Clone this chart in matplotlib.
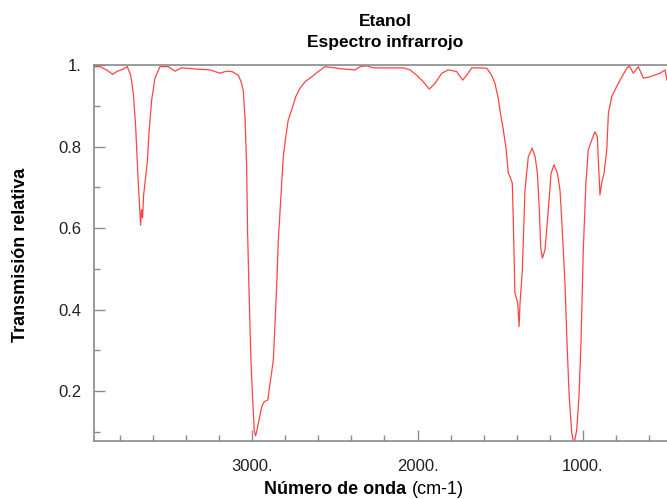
import matplotlib.pyplot as plt
import numpy as np

# wavenumber (cm-1) and relative transmission
wavenumber = np.array([
    3959, 3954, 3923, 3883, 3846, 3822, 3782, 3758, 3737, 3721,
    3707, 3691, 3677, 3671, 3665, 3659, 3651, 3637, 3625, 3610,
    3590, 3560, 3509, 3469, 3428, 3337, 3257, 3196, 3156, 3124,
    3095, 3085, 3065, 3055, 3045, 3035, 3029, 3021, 3009, 2998,
    2989, 2981, 2974, 2960, 2944, 2928, 2907, 2893, 2873, 2863,
    2853, 2843, 2827, 2813, 2798, 2783, 2762, 2738, 2712, 2681,
    2641, 2601, 2560, 2520, 2449, 2379, 2348, 2308, 2268, 2167,
    2086, 2045, 2005, 1965, 1929, 1894, 1853, 1813, 1763, 1726,
    1702, 1672, 1621, 1581, 1551, 1531, 1511, 1496, 1480, 1464,
    1450, 1440, 1426, 1420, 1410, 1393, 1385, 1379, 1365, 1349,
    1329, 1305, 1288, 1274, 1262, 1254, 1244, 1228, 1218, 1203,
    1191, 1173, 1153, 1137, 1120, 1107, 1093, 1081, 1066, 1052,
    1036, 1022, 1010, 996, 980, 966, 945, 925, 911, 905,
    895, 885, 870, 854, 844, 824, 794, 773, 733, 717,
    693, 663, 632, 592, 531, 501, 489,
])
transmission = np.array([
    0.995, 0.996, 0.996, 0.988, 0.977, 0.984, 0.990, 0.996, 0.975, 0.930,
    0.849, 0.710, 0.607, 0.645, 0.625, 0.680, 0.710, 0.760, 0.840, 0.914,
    0.968, 0.996, 0.996, 0.985, 0.993, 0.990, 0.988, 0.980, 0.985, 0.984,
    0.977, 0.975, 0.955, 0.935, 0.873, 0.755, 0.588, 0.456, 0.276, 0.178,
    0.104, 0.090, 0.100, 0.129, 0.161, 0.174, 0.178, 0.219, 0.276, 0.366,
    0.456, 0.570, 0.677, 0.775, 0.824, 0.865, 0.890, 0.922, 0.943, 0.959,
    0.971, 0.984, 0.996, 0.994, 0.990, 0.988, 0.996, 0.998, 0.993, 0.993,
    0.993, 0.988, 0.975, 0.959, 0.941, 0.955, 0.980, 0.988, 0.984, 0.963,
    0.975, 0.993, 0.993, 0.992, 0.975, 0.955, 0.918, 0.877, 0.840, 0.796,
    0.735, 0.726, 0.710, 0.620, 0.440, 0.416, 0.358, 0.416, 0.497, 0.693,
    0.775, 0.796, 0.775, 0.735, 0.644, 0.554, 0.526, 0.546, 0.595, 0.669,
    0.735, 0.755, 0.735, 0.693, 0.570, 0.465, 0.300, 0.186, 0.097, 0.070,
    0.104, 0.186, 0.317, 0.546, 0.710, 0.791, 0.816, 0.836, 0.824, 0.767,
    0.681, 0.710, 0.735, 0.791, 0.881, 0.922, 0.947, 0.963, 0.992, 0.998,
    0.980, 0.996, 0.968, 0.971, 0.980, 0.988, 0.963,
])

x_major = [3000, 2000, 1000]
x_labels = ["3000.", "2000.", "1000."]
x_minor = [3800, 3600, 3400, 3200, 2800, 2600, 2400, 2200,
           1800, 1600, 1400, 1200, 800, 600]
y_major = [0.2, 0.4, 0.6, 0.8, 1.0]
y_labels = ["0.2", "0.4", "0.6", "0.8", "1."]
y_minor = [0.1, 0.3, 0.5, 0.7, 0.9]

plt.rcParams['font.family'] = ['Liberation Sans', 'DejaVu Sans']

fig = plt.figure(figsize=(6.67, 4.99), dpi=100)
ax = fig.add_axes([0.141, 0.1162, 0.859, 0.7535])

ax.plot(wavenumber, transmission, color="#ff4444", lw=0.9)

ax.set_xlim(3959, 489)
ax.set_ylim(0.0773, 1.0)

ax.set_xticks(x_major)
ax.set_xticklabels(x_labels)
ax.set_xticks(x_minor, minor=True)
ax.set_yticks(y_major)
ax.set_yticklabels(y_labels)
ax.set_yticks(y_minor, minor=True)

gray = "#8a8a8a"
for side in ["left", "bottom", "top"]:
    ax.spines[side].set_color(gray)
    ax.spines[side].set_linewidth(1.2)
ax.spines["right"].set_visible(False)

ax.tick_params(which="both", direction="in", color=gray, width=1.0,
               top=False, right=False, labelsize=12, labelcolor="#222222")
ax.tick_params(which="major", length=8)
ax.tick_params(which="minor", length=4)
ax.tick_params(axis="y", pad=9)
ax.tick_params(axis="x", pad=13)

fig.text(385 / 667, 1 - 21 / 499, "Etanol", ha="center", va="center",
         fontsize=12.5, fontweight="bold")
fig.text(385 / 667, 1 - 42 / 499, "Espectro infrarrojo", ha="center",
         va="center", fontsize=12.5, fontweight="bold")

fig.text(406 / 667, 1 - 489 / 499, "Número de onda", ha="right", va="center",
         fontsize=13, fontweight="bold")
fig.text(412 / 667, 1 - 489 / 499, "(cm-1)", ha="left", va="center",
         fontsize=13)

fig.text(21 / 667, 1 - 255 / 499, "Transmisión relativa", ha="center",
         va="center", rotation=90, fontsize=13, fontweight="bold")

fig.savefig("out.png", dpi=100)
